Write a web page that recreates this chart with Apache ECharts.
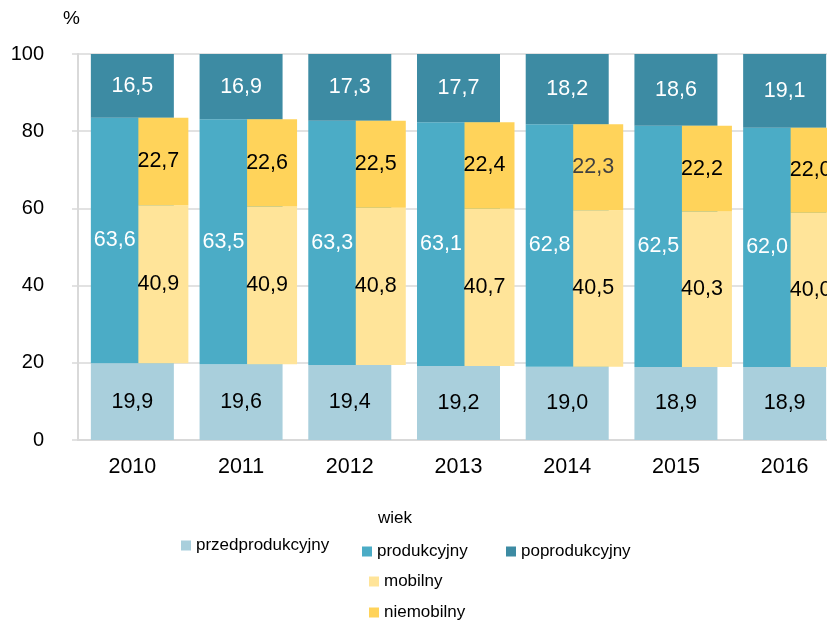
<!DOCTYPE html>
<html>
	<head>
		<meta charset="UTF-8">
		<title>wiek</title>
		<script src="https://cdn.jsdelivr.net/npm/echarts@6/dist/echarts.min.js"></script>
		<style>
			html, body { margin: 0; padding: 0; background: #fff; }
			#main { width: 827px; height: 622px; }
		</style>
	</head>
	<body>
		<div id="main"></div>
		<script>
	// dane z wykresu
	var years = ['2010', '2011', '2012', '2013', '2014', '2015', '2016'];
	var przedprodukcyjny = [19.9, 19.6, 19.4, 19.2, 19.0, 18.9, 18.9];
	var produkcyjny = [63.6, 63.5, 63.3, 63.1, 62.8, 62.5, 62.0];
	var poprodukcyjny = [16.5, 16.9, 17.3, 17.7, 18.2, 18.6, 19.1];
	var mobilny = [40.9, 40.9, 40.8, 40.7, 40.5, 40.3, 40.0];
	var niemobilny = [22.7, 22.6, 22.5, 22.4, 22.3, 22.2, 22.0];

	var font = 'Liberation Sans, Arial, sans-serif';
	function fmt(p) {
		return p.value.toFixed(1).replace('.', ',');
	}

	var myChart = echarts.init(document.getElementById('main'));

	function legendAt(name, left, top) {
		return {
			data: [name],
			left: left, top: top,
			padding: 0,
			itemWidth: 10, itemHeight: 10,
			icon: 'rect',
			selectedMode: false,
			textStyle: { fontFamily: font, fontSize: 17, color: '#000' }
		};
	}

	var option = {
		animation: false,
		textStyle: { fontFamily: font },
		grid: [
			{ left: 78, right: -12, top: 54, bottom: 182, outerBoundsMode: 'none' },
			{ left: 109, right: -43, top: 54, bottom: 182, outerBoundsMode: 'none' }
		],
		xAxis: [{
			type: 'category',
			data: years,
			gridIndex: 0,
			axisLine: { lineStyle: { color: '#D9D9D9', width: 2 } },
			axisTick: { length: 8, lineStyle: { color: '#D9D9D9', width: 2 } },
			axisLabel: { color: '#000', fontSize: 21.5, margin: 16, fontFamily: font }
		}, {
			type: 'category',
			data: years,
			gridIndex: 1,
			show: false
		}],
		yAxis: [{
			type: 'value',
			gridIndex: 0,
			min: 0, max: 100, interval: 20,
			axisLine: { show: true, lineStyle: { color: '#D9D9D9', width: 2 } },
			axisTick: { show: true, length: 6, lineStyle: { color: '#D9D9D9', width: 1.5 } },
			splitLine: { lineStyle: { color: '#D9D9D9', width: 1.5 } },
			axisLabel: { color: '#000', fontSize: 20, margin: 34, fontFamily: font }
		}, {
			type: 'value',
			gridIndex: 1,
			min: 0, max: 100,
			show: false
		}],
		legend: [
			legendAt('przedprodukcyjny', 181, 537),
			legendAt('produkcyjny', 362, 543),
			legendAt('poprodukcyjny', 506, 543),
			legendAt('mobilny', 369, 573),
			legendAt('niemobilny', 369, 604)
		],
		graphic: [
			{ type: 'text', left: 63, top: 9, style: { text: '%', font: '19px ' + font, fill: '#000' } },
			{ type: 'text', left: 378, top: 510, style: { text: 'wiek', font: '17px ' + font, fill: '#000' } }
		],
		series: [{
			name: 'przedprodukcyjny', type: 'bar', stack: 'wiek', barWidth: 83,
			data: przedprodukcyjny,
			itemStyle: { color: '#A9CFDC' },
			label: { show: true, position: 'inside', color: '#000', fontSize: 21.5, formatter: fmt }
		}, {
			name: 'produkcyjny', type: 'bar', stack: 'wiek', barWidth: 83,
			data: produkcyjny,
			itemStyle: { color: '#4BACC6' },
			label: { show: true, position: 'insideLeft', distance: 3, color: '#fff', fontSize: 21.5, formatter: fmt }
		}, {
			name: 'poprodukcyjny', type: 'bar', stack: 'wiek', barWidth: 83,
			data: poprodukcyjny,
			itemStyle: { color: '#3D8BA3' },
			label: { show: true, position: 'inside', color: '#fff', fontSize: 21.5, formatter: fmt }
		}, {
			name: 'baza', type: 'bar', stack: 'mob', barWidth: 50,
			xAxisIndex: 1, yAxisIndex: 1,
			data: przedprodukcyjny,
			itemStyle: { color: 'rgba(0,0,0,0)' },
			silent: true
		}, {
			name: 'mobilny', type: 'bar', stack: 'mob', barWidth: 50,
			xAxisIndex: 1, yAxisIndex: 1,
			data: mobilny,
			itemStyle: { color: '#FFE499' },
			label: { show: true, position: 'inside', offset: [-5, 0], color: '#000', fontSize: 21.5, formatter: fmt }
		}, {
			name: 'niemobilny', type: 'bar', stack: 'mob', barWidth: 50,
			xAxisIndex: 1, yAxisIndex: 1,
			data: niemobilny.map(function (v, i) {
				return i === 4 ? { value: v, label: { color: '#404040' } } : v;
			}),
			itemStyle: { color: '#FFD35A' },
			label: { show: true, position: 'inside', offset: [-5, 0], color: '#000', fontSize: 21.5, formatter: fmt }
		}]
	};
	myChart.setOption(option);
		</script>
	</body>
</html>
